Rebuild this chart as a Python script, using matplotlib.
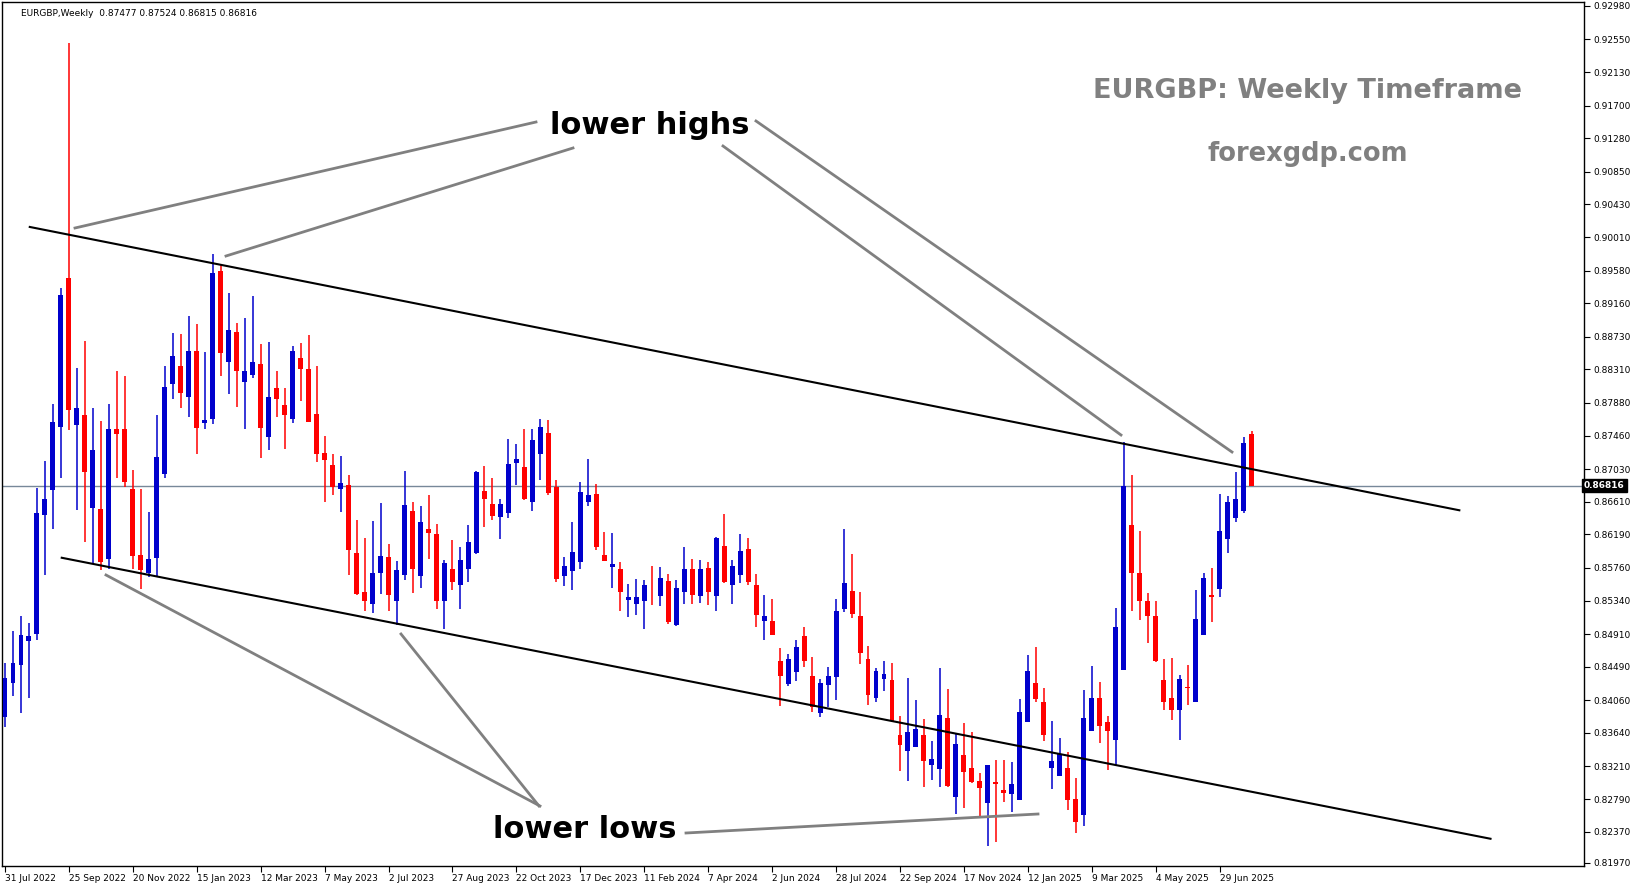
import matplotlib
matplotlib.use("Agg")
import matplotlib.pyplot as plt
from matplotlib.transforms import Affine2D

# weekly candles, EURGBP, starting week of 31 Jul 2022
opens = [0.8385,0.8428,0.8451,0.8482,0.8491,0.8644,0.8676,0.8757,0.8949,0.8760,
         0.8773,0.8653,0.8652,0.8587,0.8755,0.8755,0.8677,0.8593,0.8569,0.8589,
         0.8697,0.8812,0.8836,0.8796,0.8855,0.8762,0.8767,0.8957,0.8840,0.8879,
         0.8815,0.8824,0.8838,0.8744,0.8807,0.8785,0.8767,0.8845,0.8831,0.8774,
         0.8723,0.8708,0.8677,0.8682,0.8595,0.8545,0.8530,0.8570,0.8590,0.8534,
         0.8567,0.8649,0.8566,0.8626,0.8620,0.8534,0.8575,0.8554,0.8575,0.8595,
         0.8675,0.8658,0.8642,0.8647,0.8711,0.8705,0.8660,0.8722,0.8749,0.8680,
         0.8565,0.8572,0.8584,0.8660,0.8671,0.8592,0.8577,0.8574,0.8535,0.8530,
         0.8534,0.8539,0.8540,0.8559,0.8502,0.8545,0.8574,0.8540,0.8576,0.8540,
         0.8604,0.8554,0.8567,0.8600,0.8554,0.8508,0.8508,0.8456,0.8427,0.8442,
         0.8489,0.8437,0.8390,0.8425,0.8436,0.8523,0.8546,0.8514,0.8459,0.8409,
         0.8433,0.8432,0.8361,0.8341,0.8346,0.8361,0.8323,0.8318,0.8383,0.8282,
         0.8336,0.8319,0.8302,0.8274,0.8301,0.8291,0.8285,0.8278,0.8378,0.8428,
         0.8404,0.8319,0.8308,0.8319,0.8279,0.8259,0.8367,0.8409,0.8378,0.8355,
         0.8445,0.8631,0.8569,0.8533,0.8514,0.8432,0.8409,0.8394,0.8423,0.8404,
         0.8490,0.8541,0.8549,0.8613,0.8640,0.8649,0.87477]
highs = [0.8454,0.8495,0.8514,0.8505,0.8678,0.8713,0.8786,0.8936,0.9250,0.8833,
         0.8868,0.8782,0.8765,0.8786,0.8829,0.8823,0.8702,0.8677,0.8648,0.8773,
         0.8835,0.8878,0.8876,0.8899,0.8889,0.8853,0.8979,0.8965,0.8929,0.8891,
         0.8897,0.8925,0.8863,0.8866,0.8829,0.8807,0.8861,0.8865,0.8875,0.8835,
         0.8746,0.8722,0.8720,0.8695,0.8637,0.8614,0.8636,0.8659,0.8607,0.8585,
         0.8701,0.8660,0.8655,0.8670,0.8633,0.8586,0.8612,0.8603,0.8631,0.8700,
         0.8707,0.8691,0.8665,0.8741,0.8735,0.8754,0.8755,0.8767,0.8766,0.8689,
         0.8590,0.8635,0.8686,0.8716,0.8684,0.8622,0.8621,0.8583,0.8555,0.8562,
         0.8561,0.8578,0.8577,0.8568,0.8560,0.8603,0.8588,0.8586,0.8584,0.8616,
         0.8645,0.8586,0.8620,0.8615,0.8568,0.8541,0.8536,0.8473,0.8466,0.8483,
         0.8500,0.8461,0.8433,0.8449,0.8536,0.8626,0.8594,0.8545,0.8476,0.8447,
         0.8457,0.8454,0.8386,0.8435,0.8406,0.8382,0.8353,0.8448,0.8421,0.8362,
         0.8377,0.8365,0.8313,0.8323,0.8329,0.8329,0.8327,0.8407,0.8464,0.8474,
         0.8422,0.8379,0.8357,0.8340,0.8306,0.8419,0.8450,0.8429,0.8386,0.8525,
         0.8738,0.8695,0.8624,0.8544,0.8533,0.8459,0.8460,0.8438,0.8451,0.8547,
         0.8569,0.8576,0.8671,0.8668,0.8699,0.8744,0.87524]
lows = [0.8372,0.8412,0.8389,0.8409,0.8483,0.8567,0.8626,0.8691,0.8753,0.8650,
        0.8609,0.8581,0.8573,0.8574,0.8691,0.8680,0.8574,0.8549,0.8564,0.8565,
        0.8691,0.8793,0.8782,0.8770,0.8722,0.8754,0.8761,0.8823,0.8799,0.8783,
        0.8754,0.8820,0.8717,0.8728,0.8770,0.8729,0.8762,0.8790,0.8763,0.8712,
        0.8661,0.8669,0.8648,0.8567,0.8541,0.8521,0.8518,0.8542,0.8521,0.8503,
        0.8560,0.8544,0.8550,0.8587,0.8523,0.8497,0.8548,0.8523,0.8558,0.8594,
        0.8629,0.8637,0.8613,0.8640,0.8682,0.8663,0.8649,0.8689,0.8670,0.8558,
        0.8553,0.8547,0.8575,0.8656,0.8599,0.8585,0.8550,0.8521,0.8513,0.8516,
        0.8497,0.8528,0.8527,0.8504,0.8501,0.8530,0.8530,0.8531,0.8528,0.8521,
        0.8556,0.8530,0.8557,0.8554,0.8500,0.8483,0.8490,0.8398,0.8424,0.8431,
        0.8449,0.8391,0.8384,0.8397,0.8406,0.8519,0.8511,0.8453,0.8400,0.8404,
        0.8418,0.8378,0.8315,0.8302,0.8346,0.8295,0.8304,0.8294,0.8294,0.8260,
        0.8267,0.8300,0.8257,0.8219,0.8224,0.8275,0.8263,0.8278,0.8378,0.8404,
        0.8354,0.8292,0.8308,0.8265,0.8236,0.8245,0.8367,0.8351,0.8316,0.8321,
        0.8445,0.8521,0.8509,0.8480,0.8455,0.8394,0.8381,0.8355,0.8400,0.8404,
        0.8490,0.8506,0.8539,0.8595,0.8635,0.8647,0.86815]
closes = [0.8434,0.8454,0.8490,0.8488,0.8647,0.8664,0.8764,0.8927,0.8779,0.8781,
          0.8699,0.8727,0.8583,0.8755,0.8748,0.8686,0.8591,0.8573,0.8588,0.8719,
          0.8809,0.8848,0.8801,0.8855,0.8756,0.8766,0.8955,0.8852,0.8881,0.8829,
          0.8829,0.8841,0.8756,0.8795,0.8793,0.8772,0.8855,0.8831,0.8764,0.8722,
          0.8714,0.8680,0.8685,0.8599,0.8543,0.8533,0.8569,0.8591,0.8541,0.8573,
          0.8657,0.8574,0.8635,0.8621,0.8533,0.8582,0.8558,0.8586,0.8609,0.8699,
          0.8664,0.8643,0.8658,0.8710,0.8716,0.8664,0.8740,0.8757,0.8672,0.8562,
          0.8578,0.8596,0.8673,0.8669,0.8603,0.8585,0.8581,0.8545,0.8539,0.8539,
          0.8554,0.8538,0.8563,0.8507,0.8550,0.8575,0.8541,0.8574,0.8545,0.8614,
          0.8558,0.8579,0.8598,0.8558,0.8516,0.8514,0.8490,0.8437,0.8459,0.8474,
          0.8457,0.8397,0.8428,0.8437,0.8521,0.8556,0.8517,0.8467,0.8413,0.8443,
          0.8440,0.8379,0.8349,0.8365,0.8369,0.8328,0.8330,0.8387,0.8296,0.8350,
          0.8314,0.8301,0.8293,0.8323,0.8298,0.8287,0.8298,0.8391,0.8443,0.8408,
          0.8361,0.8328,0.8337,0.8278,0.8249,0.8383,0.8409,0.8373,0.8367,0.8500,
          0.8681,0.8569,0.8533,0.8514,0.8457,0.8404,0.8394,0.8433,0.8422,0.8510,
          0.8563,0.8538,0.8623,0.8660,0.8664,0.8737,0.86816]

date_labels = ["31 Jul 2022","25 Sep 2022","20 Nov 2022","15 Jan 2023","12 Mar 2023",
               "7 May 2023","2 Jul 2023","27 Aug 2023","22 Oct 2023","17 Dec 2023",
               "11 Feb 2024","7 Apr 2024","2 Jun 2024","28 Jul 2024","22 Sep 2024",
               "17 Nov 2024","12 Jan 2025","9 Mar 2025","4 May 2025","29 Jun 2025"]
date_bars = list(range(0, 153, 8))
price_ticks = [0.92980,0.92550,0.92130,0.91700,0.91280,0.90850,0.90430,0.90010,0.89580,
               0.89160,0.88730,0.88310,0.87880,0.87460,0.87030,0.86610,0.86190,0.85760,
               0.85340,0.84910,0.84490,0.84060,0.83640,0.83210,0.82790,0.82370,0.81970]
upper_line = ([3.1, 182.0], [0.9014, 0.8650])
lower_line = ([7.1, 185.9], [0.8589, 0.8228])
current = 0.86816

W, H = 1631, 888
fig = plt.figure(figsize=(W/100, H/100), dpi=100)
fig.patch.set_facecolor("white")
ax = fig.add_axes([2/W, 22/H, 1582/W, 864/H])
BLUE, RED = "#0000CC", "#FF0000"
for i, (o, h, l, c) in enumerate(zip(opens, highs, lows, closes)):
    col = BLUE if c >= o else RED
    ax.vlines(i, l, h, color=col, lw=1.1, zorder=3)
    lo, hi = min(o, c), max(o, c)
    ax.bar(i, max(hi - lo, 0.00008), bottom=lo, width=0.62, color=col, lw=0, zorder=4)

ax.plot(*upper_line, color="black", lw=1.5, zorder=5)
ax.plot(*lower_line, color="black", lw=1.5, zorder=5)
ax.axhline(current, color="#778899", lw=1.0, zorder=2)

ax.set_xlim(-0.375, 197.6)
ax.set_ylim(0.8193, 0.9303)
ax.set_xticks(date_bars)
ax.set_xticklabels(date_labels, fontsize=6.5, ha="left", family="DejaVu Sans")
ax.tick_params(axis="x", length=4, width=0.8, pad=2)
ax.yaxis.tick_right()
ax.set_yticks(price_ticks)
ax.set_yticklabels([f"{p:.5f}" for p in price_ticks], fontsize=6.5)
ax.tick_params(axis="y", length=4, width=0.8, pad=3)
for s in ax.spines.values():
    s.set_linewidth(1.0)
ax.text(1.0, current, f"{current:.5f}", transform=ax.get_yaxis_transform(), fontsize=6.5,
        color="white", va="center", ha="left", fontweight="bold",
        bbox=dict(facecolor="black", edgecolor="black", pad=1.5), zorder=10, clip_on=False)
ax.text(0.012, 0.992, "EURGBP,Weekly  0.87477 0.87524 0.86815 0.86816", transform=ax.transAxes,
        fontsize=6.5, va="top", ha="left")

px = Affine2D().scale(1/W, -1/H).translate(0, 1) + fig.transFigure
grey_lines = [((75,228),(536,122)), ((226,256),(573,148)), ((756,121),(1232,452)),
              ((723,146),(1121,435)), ((106,575),(540,806)), ((401,634),(539,806)),
              ((686,833),(1038,814))]
for (x0, y0), (x1, y1) in grey_lines:
    ax.plot([x0, x1], [y0, y1], color="#808080", lw=2.0, transform=px, clip_on=False, zorder=6)
fig.text(650, 125, "lower highs", transform=px, fontsize=22, fontweight="bold",
         ha="center", va="center")
fig.text(585, 829, "lower lows", transform=px, fontsize=22, fontweight="bold",
         ha="center", va="center")
fig.text(1308, 91, "EURGBP: Weekly Timeframe", transform=px, fontsize=19.5, fontweight="bold",
         color="#808080", ha="center", va="center")
fig.text(1308, 154, "forexgdp.com", transform=px, fontsize=18.5, fontweight="bold",
         color="#808080", ha="center", va="center")
fig.savefig("out.png", dpi=100)
